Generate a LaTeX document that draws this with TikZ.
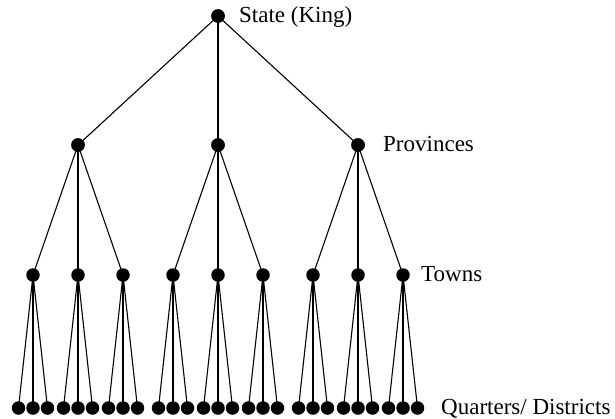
\documentclass[tikz,border=0pt]{standalone}
\usepackage{fontspec}
\setmainfont{Liberation Serif}
\begin{document}
\begin{tikzpicture}[x=1pt,y=-1pt,
  dot/.style={circle,fill=black,inner sep=0pt,minimum size=13.5pt},
  edge/.style={line width=1.1pt,black},
  lab/.style={anchor=base west,inner sep=0pt,font=\fontsize{23}{27}\selectfont}]
\useasboundingbox (0,0) rectangle (615,418);
\node[dot] (r) at (218,16) {};
\foreach \i/\px in {1/78,2/218,3/358}{
  \node[dot] (p\i) at (\px,145) {};
  \draw[edge] (r.center) -- (p\i.center);
  \foreach \j/\dx in {1/-45,2/0,3/45}{
    \pgfmathsetmacro{\tx}{\px+\dx}
    \node[dot] (t\i\j) at (\tx,275) {};
    \draw[edge] (p\i.center) -- (t\i\j.center);
    \foreach \k/\qx in {1/-14.5,2/0,3/14.5}{
      \pgfmathsetmacro{\qqx}{\tx+\qx}
      \node[dot] (q\i\j\k) at (\qqx,408) {};
      \draw[edge] (t\i\j.center) -- (q\i\j\k.center);
    }
  }
}
\foreach \n in {r,p1,p2,p3}{\node[dot] at (\n) {};}
\node[lab] (lr) at (239,22) {State (King)};
\node[lab] (lp) at (383,151) {Provinces};
\node[lab] (lt) at (421,281) {Towns};
\node[lab] (lq) at (441,414) {Quarters/ Districts};
\end{tikzpicture}
\end{document}
